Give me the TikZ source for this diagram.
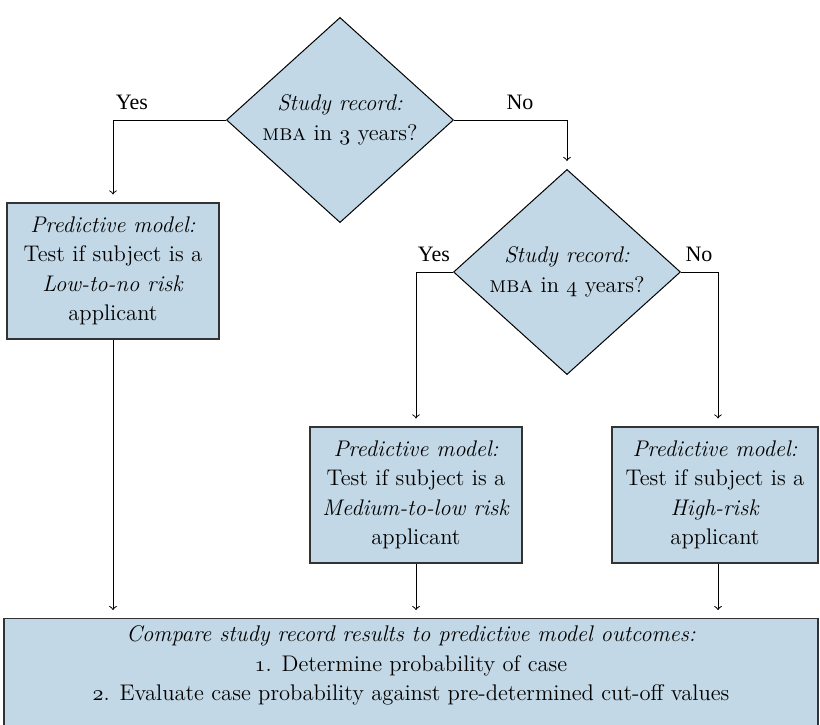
\documentclass[tikz,border=0pt]{standalone}
\usepackage{fontspec}
\usepackage{tikz}
\usetikzlibrary{shapes.geometric, positioning}
\newfontfamily\yesnofont{Liberation Serif}
\definecolor{boxblue}{RGB}{195,216,230}
\newcommand\osnum[1]{{\usefont{OML}{cmm}{m}{it}#1}}

\begin{document}
\begin{tikzpicture}[x=0.5pt, y=-0.5pt,
    every node/.style={font=\fontsize{11.3}{14.75}\selectfont},
    decision/.style={diamond, aspect=1, draw=black, line width=0.5pt,
        fill=boxblue, inner sep=0pt, minimum width=113.5pt, align=center},
    model/.style={rectangle, draw=black!80, line width=0.6pt, fill=boxblue,
        minimum width=106pt, minimum height=68pt, align=center},
    link/.style={->, line width=0.5pt, shorten >=4pt},
    answer/.style={font=\yesnofont\fontsize{11}{13}\selectfont}]
    \clip (0,0) rectangle (820,724);
    \useasboundingbox (0,0) rectangle (820,724);

    \node[decision] (rec3) at (340,120)
    {\textit{Study record:}\\ \textsc{mba} in \osnum{3} years?};
    \node[model] (lowrisk) at (113,271)
    {\textit{Predictive model:}\\ Test if subject is a\\ \textit{Low-to-no risk}\\ applicant};
    \node[decision] (rec4) at (567,272)
    {\textit{Study record:}\\ \textsc{mba} in \osnum{4} years?};
    \node[model] (medrisk) at (416,495)
    {\textit{Predictive model:}\\ Test if subject is a\\ \textit{Medium-to-low risk}\\ applicant};
    \node[model, minimum width=103pt] (highrisk) at (715,495)
    {\textit{Predictive model:}\\ Test if subject is a\\ \textit{High-risk}\\ applicant};
    \node[model, anchor=north, minimum width=407pt, inner ysep=3.5pt, text depth=30pt]
        (compare) at (411,618)
    {\textit{Compare study record results to predictive model outcomes:}\\
     \osnum{1}. Determine probability of case\\
     \osnum{2}. Evaluate case probability against pre-determined cut-off values};

    % answers on the branches
    \node[answer] (yes3) at (132,102) {Yes};
    \node[answer] (no3) at (520,102) {No};
    \node[answer] (yes4) at (434,254) {Yes};
    \node[answer] (no4) at (699,254) {No};

    \draw[link] (rec3.west) -| (lowrisk.north);
    \draw[link] (rec3.east) -| (rec4.north);
    \draw[link] (rec4.west) -| (medrisk.north);
    \draw[link] (rec4.east) -| ([xshift=1.5pt]highrisk.north);
    \draw[link] (lowrisk.south) -- (lowrisk.south |- compare.north);
    \draw[link] (medrisk.south) -- (medrisk.south |- compare.north);
    \draw[link] ([xshift=1.5pt]highrisk.south) -- ([xshift=1.5pt]highrisk.south |- compare.north);
\end{tikzpicture}
\end{document}
